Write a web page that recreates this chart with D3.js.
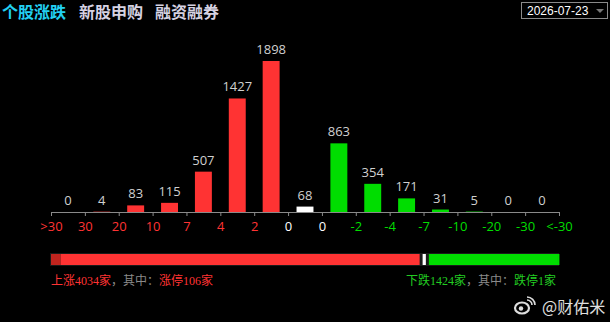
<!DOCTYPE html>
<html>
<head>
<meta charset="utf-8">
<script src="https://cdn.jsdelivr.net/npm/d3@7"></script>
<style>
  html, body { margin: 0; padding: 0; background: #000; }
  svg { display: block; }
  .axis path, .axis line { stroke: #8a8a8a; }
</style>
</head>
<body>
<div id="chart"></div>
<script>
// tabs and date
const tabs = ['个股涨跌', '新股申购', '融资融券'];
const dateText = '2026-07-23';

// distribution buckets (tick labels sit between bars)
const tickLabels = ['>30', '30', '20', '10', '7', '4', '2', '0', '0', '-2', '-4', '-7', '-10', '-20', '-30', '<-30'];
const counts = [0, 4, 83, 115, 507, 1427, 1898, 68, 863, 354, 171, 31, 5, 0, 0];

// summary bar
const upCount = 4034;
const flatCount = 68;
const downCount = 1424;
const limitUp = 106;
const limitDown = 1;

const W = 610, H = 322;
const margins = {left: 51, right: 54, baseY: 212, topY: 61};
const red = '#ff3333', green = '#00dd00', white = '#ffffff';

const svg = d3.select('#chart').append('svg')
  .attr('width', W).attr('height', H);

// header tabs
const tabX = [2, 79, 155];
svg.selectAll('text.tab')
  .data(tabs)
  .enter().append('text')
  .attr('class', 'tab')
  .attr('x', (d, i) => tabX[i])
  .attr('y', 18)
  .style('font-family', '"Noto Sans CJK SC", sans-serif')
  .style('font-size', '16px')
  .style('font-weight', 'bold')
  .style('fill', (d, i) => i === 0 ? '#22d0f2' : '#d6d2e2')
  .text(d => d);

// date picker
const dateBox = svg.append('g').attr('transform', 'translate(521,2)');
dateBox.append('rect')
  .attr('x', 0.5).attr('y', 0.5)
  .attr('width', 86).attr('height', 16)
  .style('fill', '#000').style('stroke', '#8a8a8a');
dateBox.append('text')
  .attr('x', 6).attr('y', 13)
  .style('font-family', '"Liberation Sans", Arial, sans-serif')
  .style('font-size', '12px')
  .style('fill', '#fff')
  .text(dateText);
dateBox.append('path')
  .attr('d', 'M75,7 L83,7 L79,11 Z')
  .style('fill', '#777');

// scales
const xTick = d3.scaleLinear().domain([0, counts.length]).range([margins.left, W - margins.right + 3]);
const xBand = d3.scaleBand().domain(d3.range(counts.length))
  .range(xTick.range()).paddingInner(0.5).paddingOuter(0.25);
const y = d3.scaleLinear().domain([0, d3.max(counts)]).range([margins.baseY, margins.topY]);

const barColor = i => i < 7 ? red : (i === 7 ? white : green);

// bars
svg.selectAll('rect.bar')
  .data(counts)
  .enter().append('rect')
  .attr('class', 'bar')
  .attr('x', (d, i) => xBand(i))
  .attr('y', d => y(d))
  .attr('width', xBand.bandwidth())
  .attr('height', d => margins.baseY - y(d))
  .style('fill', (d, i) => barColor(i));

// value labels
svg.selectAll('text.value')
  .data(counts)
  .enter().append('text')
  .attr('class', 'value')
  .attr('x', (d, i) => xBand(i) + xBand.bandwidth() / 2)
  .attr('y', d => y(d) - 7)
  .attr('text-anchor', 'middle')
  .style('font-family', '"Open Sans", "Noto Sans", sans-serif')
  .style('font-size', '13px')
  .style('fill', '#d0d0d0')
  .text(d => d);

// axis
const axis = d3.axisBottom(xTick)
  .tickValues(d3.range(tickLabels.length))
  .tickSize(4)
  .tickSizeOuter(0)
  .tickFormat(i => tickLabels[i]);
const axisG = svg.append('g')
  .attr('class', 'axis')
  .attr('transform', 'translate(0,' + margins.baseY + ')')
  .call(axis);
axisG.selectAll('text')
  .attr('dy', '0.9em')
  .style('font-family', '"Open Sans", "Noto Sans", sans-serif')
  .style('font-size', '13px')
  .style('fill', (d, i) => i < 7 ? red : (i < 9 ? white : green));

// summary bar
const total = upCount + flatCount + downCount;
const xs = d3.scaleLinear().domain([0, total]).range([51, 558]);
const barTop = 254, barH = 11;
svg.append('rect')
  .attr('x', xs(0) - 1).attr('y', barTop - 1)
  .attr('width', xs(total) - xs(0) + 2).attr('height', barH + 2)
  .style('fill', '#1a1a1a');
const segs = [
  {from: 0, to: limitUp, color: '#c0241e'},
  {from: limitUp, to: upCount, color: red},
  {from: upCount, to: upCount + flatCount, color: white},
  {from: upCount + flatCount, to: total - limitDown, color: green},
  {from: total - limitDown, to: total, color: '#009900'}
];
svg.selectAll('rect.seg')
  .data(segs)
  .enter().append('rect')
  .attr('class', 'seg')
  .attr('x', (d, i) => xs(d.from) + (i === 2 || i === 3 ? 1.5 : 0))
  .attr('y', barTop)
  .attr('width', (d, i) => Math.max(0, xs(d.to) - xs(d.from) - (i === 1 || i === 2 ? 1.5 : 0) - (i === 2 ? 1.5 : 0)))
  .attr('height', barH)
  .style('fill', d => d.color);

// summary text
const sumFont = '"Liberation Serif", "Noto Sans CJK SC", serif';
const upText = svg.append('text')
  .attr('x', 51).attr('y', 285)
  .style('font-family', sumFont)
  .style('font-size', '12px');
upText.append('tspan').style('fill', red).text('上涨' + upCount + '家');
upText.append('tspan').style('fill', '#8a8a8a').text('，其中：');
upText.append('tspan').style('fill', red).text('涨停' + limitUp + '家');

const downText = svg.append('text')
  .attr('x', 556).attr('y', 285)
  .attr('text-anchor', 'end')
  .style('font-family', sumFont)
  .style('font-size', '12px');
downText.append('tspan').style('fill', '#22cc22').text('下跌' + downCount + '家');
downText.append('tspan').style('fill', '#8a8a8a').text('，其中：');
downText.append('tspan').style('fill', '#22cc22').text('跌停' + limitDown + '家');

// watermark
const wm = svg.append('g').attr('transform', 'translate(522,307)');
wm.append('ellipse').attr('rx', 7).attr('ry', 5.5).attr('cy', 1)
  .style('fill', 'none').style('stroke', '#ddd').style('stroke-width', 2.2);
wm.append('circle').attr('r', 2.2).attr('cx', -1).attr('cy', 1.5).style('fill', '#ddd');
wm.append('path').attr('d', 'M5,-7 A5,5 0 0 1 10,-2 M5,-10 A8,8 0 0 1 13,-2')
  .style('fill', 'none').style('stroke', '#ddd').style('stroke-width', 1.6);
svg.append('text')
  .attr('x', 542).attr('y', 313)
  .style('font-family', '"Noto Sans CJK SC", sans-serif')
  .style('font-size', '16px')
  .style('fill', '#e0e0e0')
  .text('@财佑米');
</script>
</body>
</html>
